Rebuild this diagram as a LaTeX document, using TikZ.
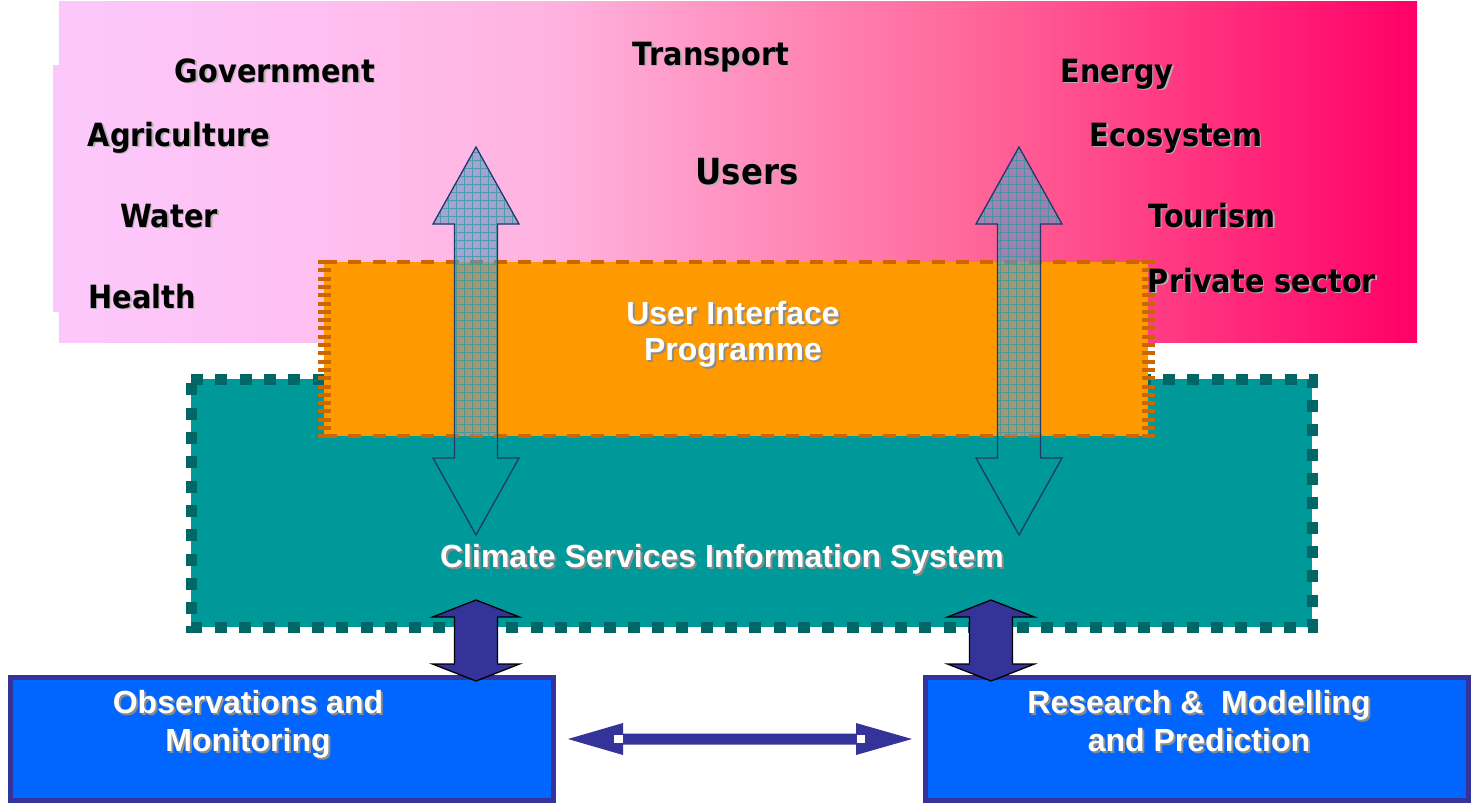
\documentclass[tikz,border=0pt]{standalone}
\usepackage{fontspec}
\setmainfont{Liberation Sans}
\newfontfamily\secfont[FakeStretch=0.9]{DejaVu Sans}
\newfontfamily\boxfont{Liberation Sans}
\usetikzlibrary{calc}
\definecolor{tealfill}{HTML}{009999}
\definecolor{tealedge}{HTML}{006666}
\definecolor{orfill}{HTML}{FF9900}
\definecolor{oredge}{HTML}{CC6600}
\definecolor{bluefill}{HTML}{0066FF}
\definecolor{navy}{HTML}{333399}
\definecolor{arrowedge}{HTML}{1F3A6A}
\definecolor{patbase}{RGB}{105,150,200}
\definecolor{patgrid}{HTML}{2A9A9A}
\definecolor{pk0}{RGB}{252,200,252}
\definecolor{pk1}{RGB}{255,192,242}
\definecolor{pk2}{RGB}{255,178,222}
\definecolor{pk3}{RGB}{255,105,155}
\definecolor{pk4}{RGB}{255,0,102}
\pgfdeclarehorizontalshading{usershade}{100bp}{color(0bp)=(pk0); color(25bp)=(pk0); color(33.9bp)=(pk1); color(43.4bp)=(pk2); color(58.2bp)=(pk3); color(75bp)=(pk4); color(100bp)=(pk4)}
\newcommand{\blab}[5][]{\node[btsh,#1] at (#3+1.5,#4+1.5) {#5};\node[btxt,#1] (#2) at (#3,#4) {#5};}
\newcommand{\wlab}[4]{\node[wtsh] at (#2+2,#3+2) {#4};\node[wtxt] (#1) at (#2,#3) {#4};}
\begin{document}
\begin{tikzpicture}[x=1pt,y=-1pt,
  btxt/.style={font=\secfont\bfseries\fontsize{32}{38}\selectfont, text=black, inner sep=0pt, anchor=base},
  btsh/.style={btxt, text=black!30},
  bigtxt/.style={font=\secfont\bfseries\fontsize{36}{42}\selectfont},
  wtxt/.style={font=\boxfont\bfseries\fontsize{32}{38}\selectfont, text=white, inner sep=0pt, anchor=base},
  wtsh/.style={wtxt, text=black!45},
  bluebox/.style={draw=navy, line width=5pt, fill=bluefill},
  patarrow/.style={draw=arrowedge, line width=1.3pt},
  navyarrow/.style={fill=navy, draw=black, line width=1.3pt, line join=miter},
]
\useasboundingbox (0,0) rectangle (1474,806);

% users band
\fill[pk0] (53,65) rectangle (60,312);
\shade[shading=usershade] (59,1) rectangle (1417,342);

% climate services information system box
\fill[tealfill] (191,379) rectangle (1312,627);
\draw[tealedge, line width=11pt, dash pattern=on 12pt off 12.3pt] (191,379) -- (1312,379) -- (1312,627) -- (191,627) -- cycle;

% user interface programme box
\fill[orfill] (324,262) rectangle (1148,436);
\draw[oredge, line width=4.5pt, dash pattern=on 13pt off 11.3pt] (324,262) -- (1148,262);
\draw[oredge, line width=4.5pt, dash pattern=on 13pt off 11.3pt] (324,436) -- (1148,436);
\draw[oredge, line width=13pt, dash pattern=on 4pt off 4.3pt] (324,260) -- (324,438);
\draw[oredge, line width=13pt, dash pattern=on 4pt off 4.3pt] (1148,260) -- (1148,438);

% patterned double arrows
\foreach \cx in {476,1019}{
  \begin{scope}
    \clip (\cx,147) -- (\cx+43,224) -- (\cx+21.5,224) -- (\cx+21.5,436) -- (\cx-21.5,436) -- (\cx-21.5,224) -- (\cx-43,224) -- cycle;
    \fill[patbase, opacity=0.6] (\cx-45,145) rectangle (\cx+45,440);
    \draw[patgrid, line width=0.9pt, opacity=0.7, step=8pt] (\cx-48,144) grid (\cx+48,440);
  \end{scope}
  \draw[patarrow] (\cx,147) -- (\cx+43,224) -- (\cx+21.5,224) -- (\cx+21.5,458) -- (\cx+43,458) -- (\cx,535) -- (\cx-43,458) -- (\cx-21.5,458) -- (\cx-21.5,224) -- (\cx-43,224) -- cycle;
}

% observation / research boxes
\node[bluebox, minimum width=543pt, minimum height=123pt, inner sep=0pt] (obs) at (281.5,738.5) {};
\node[bluebox, minimum width=543pt, minimum height=123pt, inner sep=0pt] (res) at (1196.5,738.5) {};

% vertical navy double arrows
\foreach \cx in {476,991}{
  \draw[navyarrow] (\cx,600) -- (\cx+43.5,617) -- (\cx+21.5,617) -- (\cx+21.5,664) -- (\cx+43.5,664) -- (\cx,681) -- (\cx-43.5,664) -- (\cx-21.5,664) -- (\cx-21.5,617) -- (\cx-43.5,617) -- cycle;
}

% horizontal double arrow
\fill[navy] (568,739) -- (623,723) -- (623,733.5) -- (856,733.5) -- (856,723) -- (912,739) -- (856,755) -- (856,744.5) -- (623,744.5) -- (623,755) -- cycle;
\fill[white] (614,734.5) rectangle (622.5,743);
\fill[white] (856.5,734.5) rectangle (865,743);

% sector labels
\blab{gov}{275}{82}{Government}
\blab{trans}{711}{65}{Transport}
\blab{energy}{1117}{82}{Energy}
\blab{agri}{179}{146}{Agriculture}
\blab{eco}{1176}{146}{Ecosystem}
\blab[bigtxt]{users}{747}{184}{Users}
\blab{water}{169}{227}{Water}
\blab{tour}{1212}{227}{Tourism}
\blab{health}{142}{308}{Health}
\blab{priv}{1262}{292}{Private sector}

% box labels
\wlab{ui1}{733}{324}{User Interface}
\wlab{ui2}{733}{360}{Programme}
\wlab{csis}{722}{567}{Climate Services Information System}
\wlab{obs1}{248}{713}{Observations and}
\wlab{obs2}{248}{751}{Monitoring}
\wlab{res1}{1199}{713}{Research \& \ Modelling}
\wlab{res2}{1199}{751}{and Prediction}
\end{tikzpicture}
\end{document}
